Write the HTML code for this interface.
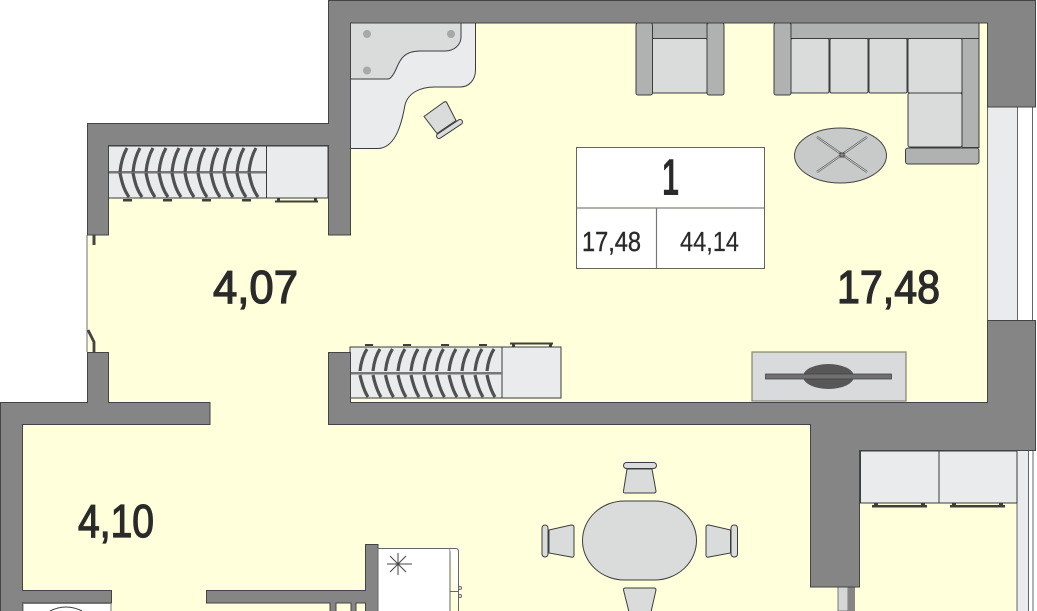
<!DOCTYPE html>
<html><head><meta charset="utf-8"><style>
html,body{margin:0;padding:0;background:#fff;width:1037px;height:611px;overflow:hidden}
svg{display:block}
text{font-family:"Liberation Sans",sans-serif;fill:#2a2a2a}
.w{fill:#858585;stroke:#444;stroke-width:1}
.f{fill:#dadbdb;stroke:#3c3c3c;stroke-width:1}
.a{fill:#b0b2b2;stroke:#3c3c3c;stroke-width:1}
.l{fill:#e9ebec;stroke:#3c3c3c;stroke-width:1}
.h{fill:none;stroke:#505050;stroke-width:3.200}
.d{fill:#3f3f38}
</style></head><body>
<svg width="1037" height="611" viewBox="0 0 1037 611" xmlns="http://www.w3.org/2000/svg">
<rect width="1037" height="611" fill="#fff"/>
<path d="M350 23H987V440H1017V611H22V403H87V145H350Z" fill="#ffffdc"/>
<path d="M87 235V352" stroke="#888" stroke-width="1.200"/>

<!-- windows -->
<rect x="987" y="107" width="30" height="213" fill="#e9ebec"/>
<path d="M987.500 107V320M1017.500 107V320M1032.500 107V320" stroke="#666" stroke-width="1"/>
<rect x="838" y="587" width="10" height="24" fill="#d5d7d7" stroke="#777"/>
<rect x="848" y="587" width="7" height="24" fill="#858585"/>
<rect x="1017" y="450" width="11" height="161" fill="#e9ebec"/>
<path d="M1017 450V611M1028.500 450V611M1033 450V611" stroke="#666" stroke-width="1"/>

<!-- desk -->
<path class="l" d="M350.500 23H475.500V70C475.500 80 469 87 460 87H435C420 87 408 93 405 105C402 122 396 148 378 148.500H350.500Z"/>
<path class="f" d="M350.500 23H461V37C461 45 454 51 445 51H420C404 51 400 60 397 67C394 74 391 79 388 79H350.500Z"/>
<circle cx="367" cy="34" r="4" fill="#a7a8a8"/><circle cx="451" cy="34" r="4" fill="#a7a8a8"/><circle cx="367" cy="70.500" r="4" fill="#a7a8a8"/>
<path class="f" d="M424 116.500L444 102Q446 101 447 103L456 120.500L437 133.500Z" stroke-linejoin="round"/>
<line x1="439" y1="136" x2="460" y2="122" stroke="#3c3c3c" stroke-width="6" stroke-linecap="round"/>
<line x1="439" y1="136" x2="460" y2="122" stroke="#dadbdb" stroke-width="4" stroke-linecap="round"/>

<!-- armchair -->
<rect class="f" x="652" y="38.500" width="55" height="54.500" rx="1.500"/>
<rect class="a" x="652" y="23" width="55" height="15.500"/>
<rect class="a" x="636" y="23" width="16.500" height="72" rx="2"/>
<rect class="a" x="707" y="23" width="17" height="72" rx="2"/>

<!-- sofa -->
<rect class="f" x="791" y="38.500" width="38" height="54.500" rx="1.500"/>
<rect class="f" x="830" y="38.500" width="38" height="54.500" rx="1.500"/>
<rect class="f" x="869" y="38.500" width="38" height="54.500" rx="1.500"/>
<rect class="f" x="908" y="38.500" width="54" height="54.500" rx="1.500"/>
<rect class="f" x="908" y="93" width="54" height="54" rx="2"/>
<rect class="a" x="791" y="23" width="188" height="15.500"/>
<rect class="a" x="774" y="23" width="17" height="72" rx="2"/>
<rect class="a" x="962" y="38.500" width="17" height="109"/>
<rect class="a" x="905.500" y="148" width="73.500" height="16" rx="2.500"/>

<!-- coffee table -->
<ellipse cx="840.500" cy="155.500" rx="46" ry="27.500" fill="#c8c9c9" stroke="#444"/>
<path d="M817 137L867 172M867 137L817 172" stroke="#555" stroke-width="2.200"/>
<path d="M817 137L867 172M867 137L817 172" stroke="#d0d1d1" stroke-width=".9"/>
<rect x="840" y="153" width="4" height="4" fill="#888" stroke="#444"/>

<!-- TV -->
<rect x="752" y="352" width="154" height="49" fill="#d9dadb" stroke="#84846c" stroke-width="1.200"/>
<ellipse cx="828.500" cy="376.500" rx="25.500" ry="12.500" fill="#575757"/>
<rect x="765.500" y="374" width="126" height="5" fill="#707070" stroke="#444" stroke-width=".8"/>

<!-- wardrobe 1 -->
<rect x="108" y="146" width="158.500" height="52" fill="#e9ebec" stroke="#3c3c3c"/>
<rect x="266.500" y="146" width="61.500" height="52" fill="#e9ebec" stroke="#3c3c3c"/>
<rect x="108" y="171" width="158" height="2.500" fill="#777"/>
<path class="h" d="M120 172C121 162 123 155 127 148M133 172C134 162 136 155 140 148M146 172C147 162 149 155 153 148M159 172C160 162 162 155 166 148M172 172C173 162 175 155 179 148M185 172C186 162 188 155 192 148M198 172C199 162 201 155 205 148M211 172C212 162 214 155 218 148M224 172C225 162 227 155 231 148M237 172C238 162 240 155 244 148M249 172C250 162 252 155 256 148"/>
<path class="h" d="M120 173C122 183 124 190 129 197M133 173C135 183 137 190 142 197M146 173C148 183 150 190 155 197M159 173C161 183 163 190 168 197M172 173C174 183 176 190 181 197M185 173C187 183 189 190 194 197M198 173C200 183 202 190 207 197M211 173C213 183 215 190 220 197M224 173C226 183 228 190 233 197M237 173C239 183 241 190 246 197M249 173C251 183 253 190 258 197"/>
<rect class="d" x="123" y="199" width="9" height="2.500"/><rect class="d" x="163" y="199" width="9" height="2.500"/><rect class="d" x="202" y="199" width="9" height="2.500"/><rect class="d" x="242" y="199" width="9" height="2.500"/>
<rect class="d" x="275" y="200.500" width="43" height="2"/><rect class="d" x="277" y="198.500" width="3" height="3"/><rect class="d" x="314" y="198.500" width="3" height="3"/>

<!-- wardrobe 2 -->
<rect x="350" y="347" width="152" height="51" fill="#e9ebec" stroke="#3c3c3c"/>
<rect x="502" y="347" width="59" height="51" fill="#e9ebec" stroke="#3c3c3c"/>
<rect x="350" y="372" width="152" height="2.500" fill="#777"/>
<path class="h" d="M360 371C361 362 363 355 367 349M373 371C374 362 376 355 380 349M385.500 371C386.500 362 388.500 355 392.500 349M398 371C399 362 401 355 405 349M411 371C412 362 414 355 418 349M424 371C425 362 427 355 431 349M436.500 371C437.500 362 439.500 355 443.500 349M449 371C450 362 452 355 456 349M462 371C463 362 465 355 469 349M475 371C476 362 478 355 482 349M487 371C488 362 490 355 494 349"/>
<path class="h" d="M360 375C362 384 364 391 368 397M373 375C375 384 377 391 381 397M385.500 375C387.500 384 389.500 391 393.500 397M398 375C400 384 402 391 406 397M411 375C413 384 415 391 419 397M424 375C426 384 428 391 432 397M436.500 375C438.500 384 440.500 391 444.500 397M449 375C451 384 453 391 457 397M462 375C464 384 466 391 470 397M475 375C477 384 479 391 483 397M487 375C489 384 491 391 495 397"/>
<rect class="d" x="365" y="344" width="8" height="2"/><rect class="d" x="403" y="344" width="8" height="2"/><rect class="d" x="441" y="344" width="8" height="2"/><rect class="d" x="479" y="344" width="8" height="2"/>
<rect class="d" x="510" y="342.500" width="43" height="2"/><rect class="d" x="512" y="344" width="3" height="3"/><rect class="d" x="549" y="344" width="3" height="3"/>

<!-- walls -->
<path class="w" d="M328.500 .500H1035.500V107H987.500V23H350.500V235H328.500V145.500H108.500V235H87.500V123.500H328.500Z"/>
<path class="w" d="M87.500 352.500H108.500V402.500H210V424.500H22.500V590.500H111.500V603H22.500V611.500H.500V402.500H87.500Z"/>
<path class="w" d="M328.500 352.500H350.500V402.500H987.500V320.500H1035.500V450.500H859.500V587H810.500V424.500H328.500Z"/>
<path class="w" d="M206.500 590.500H365.500V544.500H378V612H365.500V603H356V612H351V603H336V612H330V603H206.500Z"/>

<!-- door -->
<rect x="92.500" y="235" width="3" height="10" fill="#444"/>
<path d="M88 330L94 342V352" fill="none" stroke="#444" stroke-width="2.800"/>

<!-- closet -->
<rect x="860.500" y="451" width="78.500" height="52" fill="#e9ebec" stroke="#3c3c3c"/>
<rect x="939" y="451" width="78" height="52" fill="#e9ebec" stroke="#3c3c3c"/>
<rect class="d" x="872" y="505" width="55" height="2.500"/><rect class="d" x="950" y="505" width="55" height="2.500"/>
<rect class="d" x="874" y="503" width="4" height="3"/><rect class="d" x="921" y="503" width="4" height="3"/><rect class="d" x="952" y="503" width="4" height="3"/><rect class="d" x="999" y="503" width="4" height="3"/>

<!-- dining -->
<rect class="f" x="582.500" y="501" width="114" height="79" rx="42" ry="39.500"/>
<rect class="f" x="623.500" y="462.500" width="33" height="6" rx="3"/>
<path class="f" d="M627 469H652L656 491Q656 493 654 493H625Q623 493 623.500 491Z"/>
<path class="f" d="M625 588H654Q656 588 656 590L651 612H629L623.500 590Q623.500 588 625 588Z"/>
<rect class="f" x="542" y="525" width="6" height="32" rx="3"/>
<path class="f" d="M549 530L571 525Q574 525 574 527V555Q574 558 571 557L549 553Z"/>
<rect class="f" x="731" y="525" width="6.500" height="32" rx="3"/>
<path class="f" d="M730.500 530L709 525Q706 525 706 527V555Q706 558 709 557L730.500 553Z"/>

<!-- kitchen -->
<rect x="378" y="548.500" width="72" height="63" fill="#fff" stroke="#666"/>
<path d="M450 548.500H456Q458.500 548.500 458.500 552V611" fill="#fff" stroke="#666"/>
<path d="M450 591.500H458" stroke="#666"/>
<circle cx="460" cy="588" r="1.500" fill="#fff" stroke="#666"/><circle cx="460" cy="596" r="1.500" fill="#fff" stroke="#666"/>
<path d="M398 553V575M387 564H412M390 556L406 572M406 556L390 572" stroke="#444" stroke-width="1"/>

<!-- washer -->
<rect x="23" y="603.500" width="88" height="8" fill="#fff" stroke="#777"/>
<path d="M50 611Q66 603 82 611" fill="none" stroke="#444"/>

<!-- info box -->
<rect x="576.500" y="147.500" width="188" height="121" fill="#fff" stroke="#66665a"/>
<path d="M576.500 208H764.500" stroke="#66665a"/>
<path d="M656.500 208V268" stroke="#777" stroke-width="1.200"/>
<text x="662" y="195" font-size="52" font-weight="bold" textLength="17" lengthAdjust="spacingAndGlyphs">1</text>
<text x="582" y="251" font-size="28" stroke="#2a2a2a" stroke-width=".4" textLength="59" lengthAdjust="spacingAndGlyphs">17,48</text>
<text x="680" y="251" font-size="28" stroke="#2a2a2a" stroke-width=".2" textLength="59" lengthAdjust="spacingAndGlyphs">44,14</text>

<!-- areas -->
<text x="837" y="303" font-size="46" stroke="#2a2a2a" stroke-width="1.300" textLength="103" lengthAdjust="spacingAndGlyphs">17,48</text>
<text x="213" y="303" font-size="46" stroke="#2a2a2a" stroke-width="1.300" textLength="85" lengthAdjust="spacingAndGlyphs">4,07</text>
<text x="78" y="537" font-size="46" stroke="#2a2a2a" stroke-width="1.300" textLength="76" lengthAdjust="spacingAndGlyphs">4,10</text>
</svg>
</body></html>
